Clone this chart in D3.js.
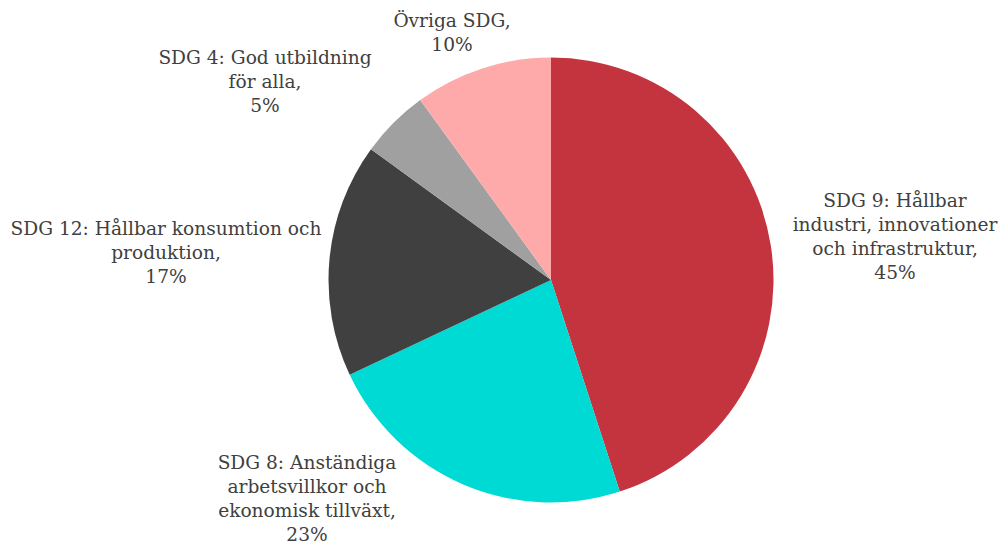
<!DOCTYPE html>
<html>
<head>
<meta charset="utf-8">
<script src="https://cdn.jsdelivr.net/npm/d3@7"></script>
<style>
  html, body { margin: 0; padding: 0; background: #ffffff; }
  svg { display: block; }
  .label { font-family: "DejaVu Serif", Georgia, serif; font-size: 18.6px; fill: #404040; }
</style>
</head>
<body>
<svg id="chart" width="1002" height="542"></svg>
<script>
// SDG share of the portfolio, clockwise from 12 o'clock
const categories = [
  "SDG 9: Hållbar industri, innovationer och infrastruktur",
  "SDG 8: Anständiga arbetsvillkor och ekonomisk tillväxt",
  "SDG 12: Hållbar konsumtion och produktion",
  "SDG 4: God utbildning för alla",
  "Övriga SDG"
];
const values = [45, 23, 17, 5, 10];
const colors = ["#C3343F", "#00DAD4", "#404040", "#A0A0A0", "#FFAAAA"];

// Label text broken into the lines shown beside each slice
const labelLines = [
  ["SDG 9: Hållbar", "industri, innovationer", "och infrastruktur,", "45%"],
  ["SDG 8: Anständiga", "arbetsvillkor och", "ekonomisk tillväxt,", "23%"],
  ["SDG 12: Hållbar konsumtion och", "produktion,", "17%"],
  ["SDG 4: God utbildning", "för alla,", "5%"],
  ["Övriga SDG,", "10%"]
];
// Label anchor points (centre of first line baseline)
const labelPos = [
  [895, 207], [307, 469], [166, 235], [265, 64], [452, 27]
];

const svg = d3.select("#chart");
const cx = 551, cy = 280, r = 222.5;

const pie = d3.pie().sort(null).value(d => d)(values);
const arc = d3.arc().innerRadius(0).outerRadius(r);

const g = svg.append("g").attr("transform", `translate(${cx},${cy})`);
g.selectAll("path")
  .data(pie)
  .join("path")
  .attr("d", arc)
  .attr("fill", (d, i) => colors[i]);

const lineH = 24;
labelLines.forEach((lines, i) => {
  const t = svg.append("text")
    .attr("class", "label")
    .attr("text-anchor", "middle")
    .attr("x", labelPos[i][0])
    .attr("y", labelPos[i][1]);
  lines.forEach((ln, j) => {
    t.append("tspan")
      .attr("x", labelPos[i][0])
      .attr("dy", j === 0 ? 0 : lineH)
      .text(ln);
  });
});
</script>
</body>
</html>
